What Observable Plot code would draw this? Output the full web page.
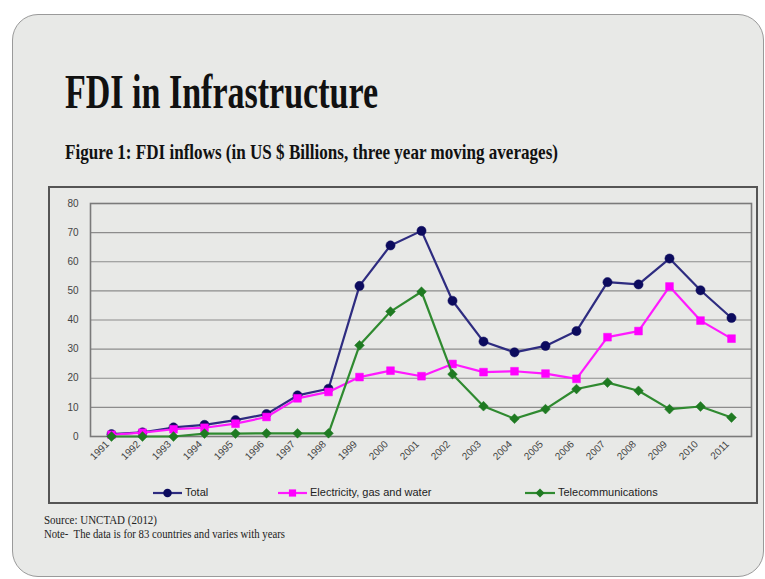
<!DOCTYPE html>
<html>
<head>
<meta charset="utf-8">
<script src="https://cdn.jsdelivr.net/npm/d3@7"></script>
<script src="https://cdn.jsdelivr.net/npm/@observablehq/plot@0.6"></script>
<style>
  html, body { margin: 0; padding: 0; background: #ffffff; }
  #page { position: relative; width: 765px; height: 579px; overflow: hidden; background: #ffffff; }
  #slide { position: absolute; left: 12px; top: 14px; width: 752px; height: 563px; background: #e8e9e7; border: 1.5px solid #9a9a9a; border-radius: 26px; box-sizing: border-box; }
  .txt { position: absolute; white-space: nowrap; font-family: "Liberation Serif", "Times New Roman", serif; color: #111; line-height: 1; transform-origin: 0 0; }
  #title { left: 65px; font-size: 48px; font-weight: bold; }
  #subtitle { left: 65px; font-size: 21px; font-weight: bold; }
  #source, #note { left: 44px; font-size: 12px; color: #222; }
  #box { position: absolute; left: 48px; top: 186px; width: 710px; height: 318px; border: 2px solid #555; box-sizing: border-box; }
  #chart { position: absolute; left: 48px; top: 186px; }
  #legend { position: absolute; left: 0; top: 0; }
  .leg { position: absolute; font-family: "Liberation Sans", Arial, sans-serif; font-size: 11px; color: #222; line-height: 1; white-space: nowrap; }
</style>
</head>
<body>
<div id="page">
  <div id="slide"></div>
  <div class="txt" id="title">FDI in Infrastructure</div>
  <div class="txt" id="subtitle">Figure 1: FDI inflows (in US $ Billions, three year moving averages)</div>
  <div id="box"></div>
  <div id="chart"></div>
  <div id="legend"></div>
  <div class="txt" id="source">Source: UNCTAD (2012)</div>
  <div class="txt" id="note">Note-&nbsp; The data is for 83 countries and varies with years</div>
</div>
<script>
// ---- data ----
const years = ["1991","1992","1993","1994","1995","1996","1997","1998","1999","2000","2001","2002","2003","2004","2005","2006","2007","2008","2009","2010","2011"];
const total = [0.8, 1.4, 3.1, 4.0, 5.6, 7.7, 14.1, 16.4, 51.7, 65.6, 70.6, 46.6, 32.6, 28.9, 31.1, 36.2, 53.0, 52.2, 61.1, 50.2, 40.7];
const electricity = [0.6, 1.3, 2.5, 3.0, 4.4, 6.7, 13.1, 15.3, 20.4, 22.6, 20.7, 24.9, 22.1, 22.4, 21.6, 19.8, 34.1, 36.2, 51.5, 39.8, 33.6];
const telecom = [0.0, 0.0, 0.0, 1.0, 1.0, 1.1, 1.1, 1.1, 31.3, 42.9, 49.7, 21.4, 10.4, 6.1, 9.4, 16.3, 18.5, 15.7, 9.4, 10.3, 6.5];
const yTicks = [0, 10, 20, 30, 40, 50, 60, 70, 80];
const seriesNames = ["Total", "Electricity, gas and water", "Telecommunications"];

// ---- styles ----
const styles = {
  "Total": {line: "#2e2c80", fill: "#0c0b5e", symbol: "circle", r: 4.6},
  "Electricity, gas and water": {line: "#ff1aff", fill: "#ff00ff", symbol: "square", r: 4.4},
  "Telecommunications": {line: "#2f8a30", fill: "#1f7a22", symbol: "diamond2", r: 4.4}
};

const seriesValues = [total, electricity, telecom];
const rows = [];
seriesNames.forEach((name, si) => {
  years.forEach((yr, i) => rows.push({series: name, year: yr, value: seriesValues[si][i]}));
});

const marks = [
  Plot.gridY(yTicks, {stroke: "#8c8c8c", strokeOpacity: 1, strokeWidth: 1.2}),
  Plot.frame({stroke: "#7a7a7a", strokeWidth: 1.6}),
  Plot.axisY(yTicks, {tickSize: 0, tickPadding: 12, fontSize: 10, fill: "#444", fontFamily: "Liberation Sans, Arial, sans-serif"}),
  Plot.axisX({tickSize: 0, tickPadding: 6, tickRotate: -45, dx: -4, fontSize: 10, fill: "#444", fontFamily: "Liberation Sans, Arial, sans-serif"})
];
seriesNames.forEach(name => {
  const st = styles[name];
  const data = rows.filter(d => d.series === name);
  marks.push(Plot.line(data, {x: "year", y: "value", stroke: st.line, strokeWidth: 2.2}));
  marks.push(Plot.dot(data, {x: "year", y: "value", symbol: st.symbol, r: st.r, fill: st.fill, stroke: st.fill, strokeWidth: 0.5}));
});

const chart = Plot.plot({
  width: 710,
  height: 290,
  marginLeft: 42,
  marginRight: 7,
  marginTop: 17,
  marginBottom: 40,
  style: {background: "transparent", overflow: "visible"},
  x: {type: "point", domain: years, padding: 0.5, label: null},
  y: {domain: [0, 80], label: null},
  marks
});
document.getElementById("chart").appendChild(chart);

// ---- legend ----
const legendItems = [
  {name: "Total", x0: 153, x1: 182, tx: 185},
  {name: "Electricity, gas and water", x0: 278, x1: 307, tx: 310},
  {name: "Telecommunications", x0: 525, x1: 555, tx: 558}
];
const legendY = 493;
const legend = document.getElementById("legend");
const ns = "http://www.w3.org/2000/svg";
const lsvg = document.createElementNS(ns, "svg");
lsvg.setAttribute("width", 765); lsvg.setAttribute("height", 579);
lsvg.style.position = "absolute"; lsvg.style.left = "0"; lsvg.style.top = "0"; lsvg.style.overflow = "visible";
legend.appendChild(lsvg);
const symMap = {circle: d3.symbolCircle, square: d3.symbolSquare, diamond2: d3.symbolDiamond2};
legendItems.forEach(it => {
  const st = styles[it.name];
  const ln = document.createElementNS(ns, "line");
  ln.setAttribute("x1", it.x0); ln.setAttribute("x2", it.x1);
  ln.setAttribute("y1", legendY); ln.setAttribute("y2", legendY);
  ln.setAttribute("stroke", st.line); ln.setAttribute("stroke-width", 2.2);
  lsvg.appendChild(ln);
  const p = document.createElementNS(ns, "path");
  p.setAttribute("d", d3.symbol(symMap[st.symbol], Math.PI * st.r * st.r * 0.85)());
  p.setAttribute("transform", `translate(${(it.x0 + it.x1) / 2},${legendY})`);
  p.setAttribute("fill", st.fill);
  lsvg.appendChild(p);
  const t = document.createElement("div");
  t.className = "leg";
  t.textContent = it.name;
  t.style.left = it.tx + "px";
  t.style.top = (legendY - 6) + "px";
  legend.appendChild(t);
});

// ---- fit condensed serif text to the reference widths ----
function place(id, baseline, targetWidth) {
  const el = document.getElementById(id);
  const fs = parseFloat(getComputedStyle(el).fontSize);
  el.style.top = (baseline - 0.8375 * fs) + "px";
  const w = el.getBoundingClientRect().width;
  el.style.transform = `scaleX(${targetWidth / w})`;
}
place("title", 108, 313);
place("subtitle", 160, 493);
place("source", 524, 113);
place("note", 538.5, 241);
</script>
</body>
</html>
